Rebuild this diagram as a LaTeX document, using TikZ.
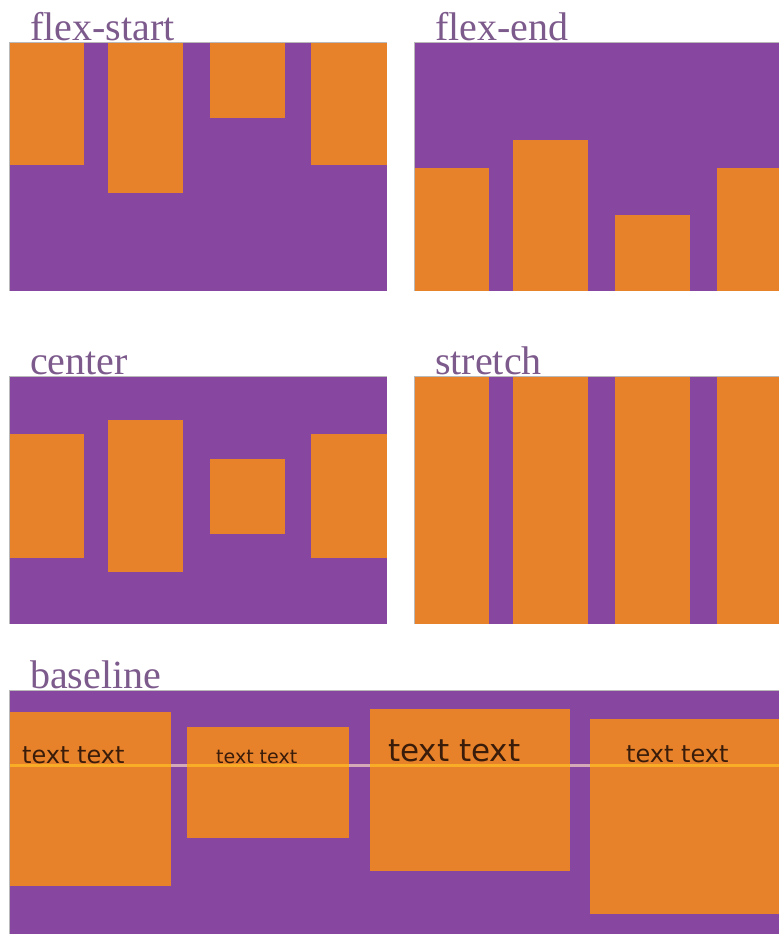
\documentclass[tikz,border=0pt]{standalone}
\usepackage{fontspec}
\setmainfont{Liberation Serif}
\newfontfamily\samplefont{DejaVu Sans}
\definecolor{flexpurple}{HTML}{8746A0}
\definecolor{flexorange}{HTML}{E8822A}
\definecolor{labelgray}{HTML}{7D5A8C}
\definecolor{textbrown}{HTML}{3A1C0A}
\definecolor{baseyellow}{HTML}{F9AC26}
\definecolor{basepale}{HTML}{D4AAB8}
\begin{document}
\begin{tikzpicture}[
  x=1pt, y=-1pt,
  panel/.style={fill=flexpurple},
  rim/.style={draw=gray!55, line width=1pt},
  item/.style={fill=flexorange},
  title/.style={anchor=base west, inner sep=0pt, text=labelgray, font=\fontsize{40}{40}\selectfont},
  sample/.style={anchor=base west, inner sep=0pt, text=textbrown},
  guide/.style={line width=3pt},
]
  \useasboundingbox (0,0) rectangle (779,936);
  % containers
  \foreach \l/\t/\r/\b in {9/43/387/291, 414/43/779/291, 9/376/387/624, 414/376/779/624, 9/690/779/934}
    \fill[panel] (\l,\t) rectangle (\r,\b);
  % flex-start
  \foreach \l/\r/\b in {9/84/165, 108/183/193, 210/285/118, 311/387/165}
    \fill[item] (\l,43) rectangle (\r,\b);
  % flex-end
  \foreach \l/\r/\t in {414/489/168, 513/588/140, 615/690/215, 717/779/168}
    \fill[item] (\l,\t) rectangle (\r,291);
  % center
  \foreach \l/\r/\t/\b in {9/84/434/558, 108/183/420/572, 210/285/459/534, 311/387/434/558}
    \fill[item] (\l,\t) rectangle (\r,\b);
  % stretch
  \foreach \l/\r in {414/489, 513/588, 615/690, 717/779}
    \fill[item] (\l,376) rectangle (\r,624);
  % baseline
  \foreach \l/\t/\r/\b in {9/712/171/886, 187/727/349/838, 370/709/570/871, 590/719/779/914}
    \fill[item] (\l,\t) rectangle (\r,\b);
  \coordinate (gl) at (9,765);
  \coordinate (gr) at (779,765);
  \draw[guide, basepale] (gl) -- (gr);
  \foreach \l/\r in {9/171, 187/349, 370/570, 590/779}
    \draw[guide, baseyellow] (\l,765) -- (\r,765);
  \node[sample, font=\samplefont\fontsize{24}{24}\selectfont] (s1) at (22,763) {text text};
  \node[sample, font=\samplefont\fontsize{19}{19}\selectfont] (s2) at (216,763) {text text};
  \node[sample, font=\samplefont\fontsize{31}{31}\selectfont] (s3) at (388,761) {text text};
  \node[sample, font=\samplefont\fontsize{24}{24}\selectfont] (s4) at (626,762) {text text};
  % rims
  \foreach \l/\t/\r/\b in {9/43/387/291, 414/43/779/291, 9/376/387/624, 414/376/779/624, 9/690/779/934}
    \draw[rim] (\l,\b) -- (\l,\t) -- (\r,\t);
  % titles
  \node[title] (t1) at (30,41) {flex-start};
  \node[title] (t2) at (435,41) {flex-end};
  \node[title] (t3) at (30,374) {center};
  \node[title] (t4) at (435,374) {stretch};
  \node[title] (t5) at (30,688) {baseline};
\end{tikzpicture}
\end{document}
